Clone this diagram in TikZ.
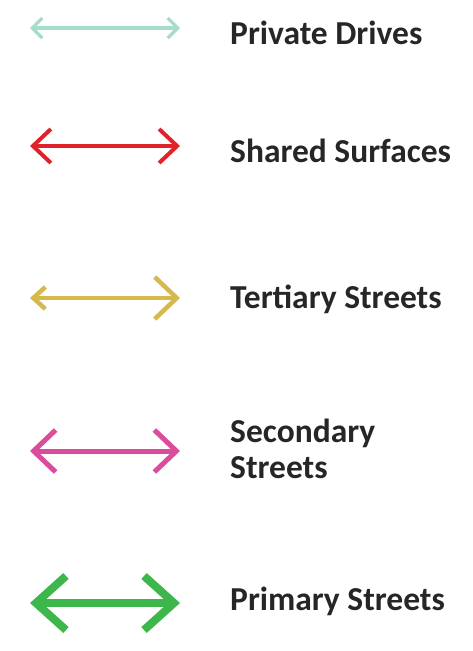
\documentclass[tikz,border=0pt]{standalone}
\usepackage{fontspec}
\newfontfamily\lblfont{Carlito}
\usetikzlibrary{arrows.meta}
\definecolor{cpriv}{HTML}{A6DCCB}
\definecolor{cshared}{HTML}{E0232B}
\definecolor{cter}{HTML}{D6B94C}
\definecolor{csec}{HTML}{DB4C9C}
\definecolor{cprim}{HTML}{3DB64C}
\tikzset{
  lbl/.style={anchor=west, inner sep=0pt, font=\lblfont\bfseries\fontsize{33.5}{36}\selectfont, text=black!85, align=left},
}
\begin{document}
\begin{tikzpicture}[x=1pt,y=-1pt]
\useasboundingbox (0,0) rectangle (473,651);
% Private Drives
\coordinate (a1) at (30,28); \coordinate (b1) at (180,28);
\draw[cpriv, line width=3.2, {Straight Barb[length=10,width=20,line width=3.2]}-{Straight Barb[length=10,width=20,line width=3.2]}] (a1) -- (b1);
\node[lbl] (t1) at (230,33) {Private Drives};
% Shared Surfaces
\coordinate (a2) at (30,146); \coordinate (b2) at (180,146);
\draw[cshared, line width=4, {Straight Barb[length=18,width=34,line width=4]}-{Straight Barb[length=18,width=34,line width=4]}] (a2) -- (b2);
\node[lbl] (t2) at (230,151) {Shared Surfaces};
% Tertiary
\coordinate (a3) at (30,298); \coordinate (b3) at (180,298);
\draw[cter, line width=4.5, {Straight Barb[length=12,width=22,line width=4.5]}-{Straight Barb[length=22,width=42,line width=4.5]}] (a3) -- (b3);
\node[lbl] (t3) at (230,299) {Tertiary Streets};
% Secondary
\coordinate (a4) at (30,451); \coordinate (b4) at (180,451);
\draw[csec, line width=5, {Straight Barb[length=22,width=42,line width=5]}-{Straight Barb[length=22,width=42,line width=5]}] (a4) -- (b4);
\node[lbl] (t4) at (230,449) {Secondary\\Streets};
% Primary
\coordinate (a5) at (30,603); \coordinate (b5) at (180,603);
\draw[cprim, line width=8, {Straight Barb[length=30,width=54,line width=8]}-{Straight Barb[length=30,width=54,line width=8]}] (a5) -- (b5);
\node[lbl] (t5) at (230,601) {Primary Streets};
\end{tikzpicture}
\end{document}
